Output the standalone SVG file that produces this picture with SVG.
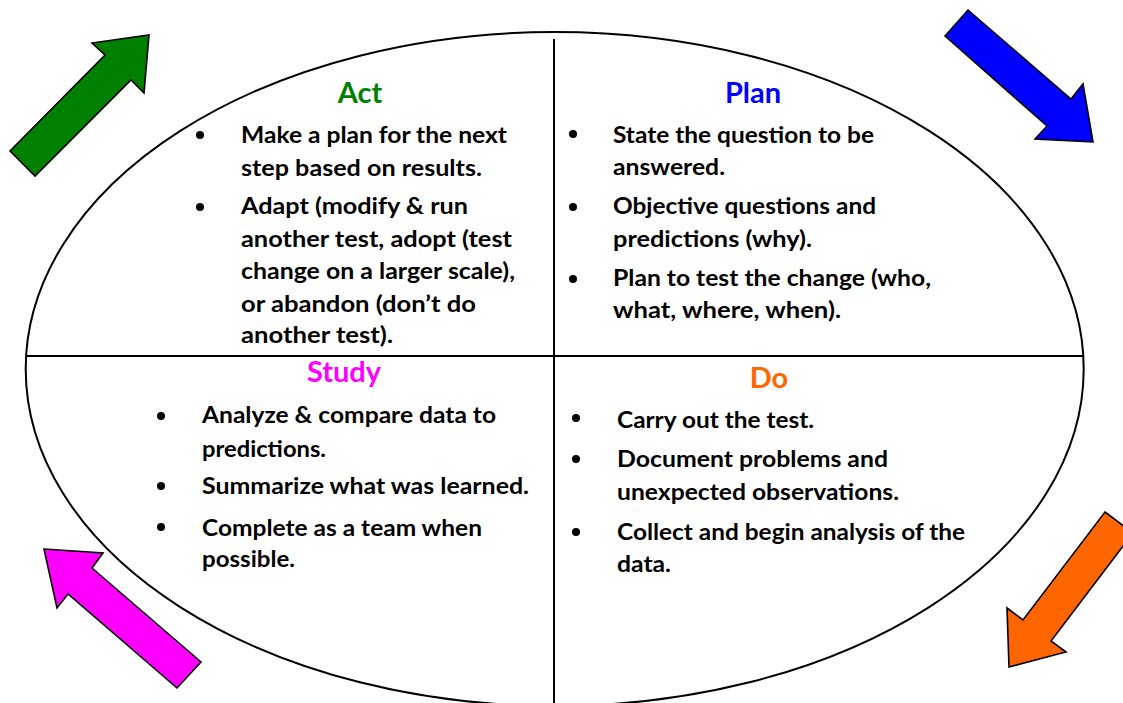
<svg xmlns="http://www.w3.org/2000/svg" width="1123" height="703" viewBox="0 0 1123 703">
<style>
.b{font-family:Lato,"Open Sans","Liberation Sans",sans-serif;font-weight:bold;font-size:23px;fill:#000}
.h{font-family:Lato,"Open Sans","Liberation Sans",sans-serif;font-weight:bold;font-size:29px;text-anchor:middle}
.arr{stroke:#000;stroke-width:1.6;stroke-linejoin:miter}
.ln{stroke:#000;stroke-width:2;fill:none}
</style>
<rect width="1123" height="703" fill="#fff"/>
<g id="frame">
<ellipse cx="554.7" cy="369" rx="529" ry="337" class="ln"/>
<line x1="554" y1="39" x2="554" y2="703" class="ln" stroke-width="2.2"/>
<line x1="26" y1="356" x2="1083" y2="356" class="ln"/>
</g>
<g id="connectors">
<polygon id="arrow-act" class="arr" fill="#008000" points="10,151 35,176 131,80 144,93 149,35 92,43 105,55"/>
<polygon id="arrow-plan" class="arr" fill="#0000FF" points="945,36 968,10 1071,99 1083,84 1093,142 1035,139 1047,126"/>
<polygon id="arrow-do" class="arr" fill="#FF6600" points="1105,512 1133,533 1051,641 1066,652 1009,667 1007,608 1023,620"/>
<polygon id="arrow-study" class="arr" fill="#FF00FF" points="44,549 103,553 92,568 201,662 177,688 68,594 57,608"/>
</g>
<g id="act">
<text class="h" x="360" y="103" fill="#008000">Act</text>
<circle cx="200" cy="135" r="4"/><circle cx="200" cy="207" r="4"/>
<text class="b" x="241" y="143" textLength="266" lengthAdjust="spacingAndGlyphs">Make a plan for the next</text>
<text class="b" x="241" y="176" textLength="241" lengthAdjust="spacingAndGlyphs">step based on results.</text>
<text class="b" x="241" y="214" textLength="227" lengthAdjust="spacingAndGlyphs">Adapt (modify &amp; run</text>
<text class="b" x="241" y="247" textLength="271" lengthAdjust="spacingAndGlyphs">another test, adopt (test</text>
<text class="b" x="241" y="279" textLength="274" lengthAdjust="spacingAndGlyphs">change on a larger scale),</text>
<text class="b" x="241" y="312" textLength="235" lengthAdjust="spacingAndGlyphs">or abandon (don’t do</text>
<text class="b" x="241" y="343" textLength="152" lengthAdjust="spacingAndGlyphs">another test).</text>
</g>
<g id="plan">
<text class="h" x="753" y="103" fill="#0000FF">Plan</text>
<circle cx="573" cy="134" r="4"/><circle cx="573" cy="207" r="4"/><circle cx="573" cy="279" r="4"/>
<text class="b" x="613" y="143" textLength="261" lengthAdjust="spacingAndGlyphs">State the question to be</text>
<text class="b" x="613" y="175" textLength="112" lengthAdjust="spacingAndGlyphs">answered.</text>
<text class="b" x="613" y="214" textLength="263" lengthAdjust="spacingAndGlyphs">Objective questions and</text>
<text class="b" x="613" y="247" textLength="199" lengthAdjust="spacingAndGlyphs">predictions (why).</text>
<text class="b" x="613" y="286" textLength="318" lengthAdjust="spacingAndGlyphs">Plan to test the change (who,</text>
<text class="b" x="613" y="318" textLength="228" lengthAdjust="spacingAndGlyphs">what, where, when).</text>
</g>
<g id="study">
<text class="h" x="344" y="382" fill="#FF00FF">Study</text>
<circle cx="161" cy="416" r="4"/><circle cx="161" cy="486" r="4"/><circle cx="161" cy="527" r="4"/>
<text class="b" x="202" y="423" textLength="294" lengthAdjust="spacingAndGlyphs">Analyze &amp; compare data to</text>
<text class="b" x="202" y="457" textLength="124" lengthAdjust="spacingAndGlyphs">predictions.</text>
<text class="b" x="202" y="494" textLength="327" lengthAdjust="spacingAndGlyphs">Summarize what was learned.</text>
<text class="b" x="202" y="536" textLength="280" lengthAdjust="spacingAndGlyphs">Complete as a team when</text>
<text class="b" x="202" y="567" textLength="93" lengthAdjust="spacingAndGlyphs">possible.</text>
</g>
<g id="do">
<text class="h" x="769" y="388" fill="#FF6600">Do</text>
<circle cx="576" cy="418" r="4"/><circle cx="576" cy="459" r="4"/><circle cx="576" cy="532" r="4"/>
<text class="b" x="617" y="428" textLength="197" lengthAdjust="spacingAndGlyphs">Carry out the test.</text>
<text class="b" x="617" y="467" textLength="271" lengthAdjust="spacingAndGlyphs">Document problems and</text>
<text class="b" x="617" y="500" textLength="282" lengthAdjust="spacingAndGlyphs">unexpected observations.</text>
<text class="b" x="617" y="540" textLength="348" lengthAdjust="spacingAndGlyphs">Collect and begin analysis of the</text>
<text class="b" x="617" y="572" textLength="54" lengthAdjust="spacingAndGlyphs">data.</text>
</g>
</svg>
